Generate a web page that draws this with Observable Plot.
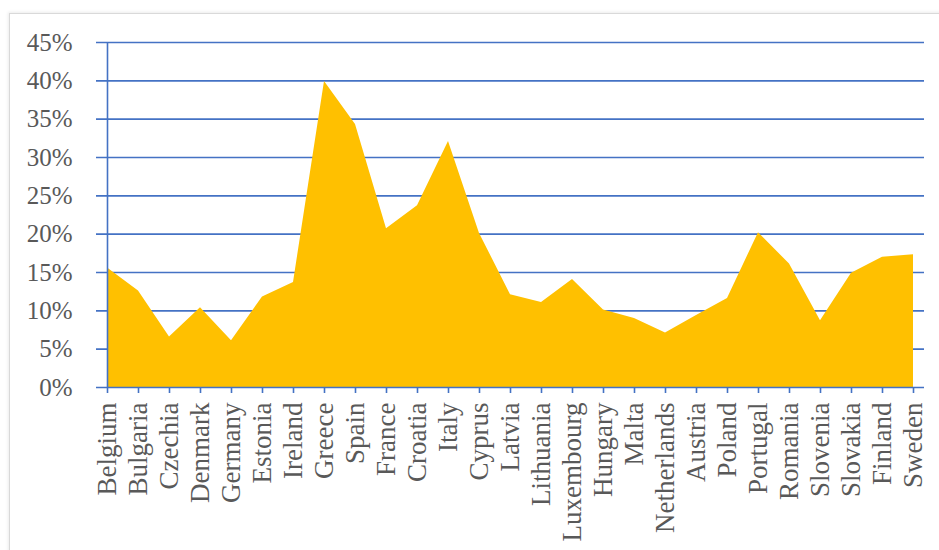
<!DOCTYPE html>
<html>
<head>
<meta charset="utf-8">
<script src="https://cdn.jsdelivr.net/npm/d3@7"></script>
<script src="https://cdn.jsdelivr.net/npm/@observablehq/plot@0.6"></script>
<style>
  html, body { margin: 0; padding: 0; background: #fff; }
  #wrap { position: relative; width: 939px; height: 550px; overflow: hidden; }
  #frame { position: absolute; left: 9px; top: 13px; width: 960px; height: 560px;
           border-top: 1px solid #d9d9d9; border-left: 1px solid #d9d9d9;
           box-shadow: -1px -1px 3px rgba(0,0,0,0.08); }
  #chart { position: absolute; left: 0; top: 0; width: 939px; height: 550px; }
</style>
</head>
<body>
<div id="wrap"><div id="frame"></div><div id="chart"></div></div>
<script>
const countries = ["Belgium","Bulgaria","Czechia","Denmark","Germany","Estonia","Ireland","Greece","Spain","France","Croatia","Italy","Cyprus","Latvia","Lithuania","Luxembourg","Hungary","Malta","Netherlands","Austria","Poland","Portugal","Romania","Slovenia","Slovakia","Finland","Sweden"];
const values = [15.6,12.6,6.6,10.4,6.1,11.8,13.7,39.9,34.3,20.7,23.7,32.1,20.1,12.1,11.1,14.1,10.1,9.0,7.1,9.4,11.6,20.2,16.1,8.7,14.9,17.0,17.3];
const yTicks = [0,5,10,15,20,25,30,35,40,45];
const gridTicks = [5,10,15,20,25,30,35,40,45];

const data = countries.map((c, i) => ({country: c, value: values[i]}));
const blue = "#4472C4";
const grey = "#595959";

const chart = Plot.plot({
  width: 939,
  height: 550,
  marginLeft: 96,
  marginRight: 15,
  marginTop: 42,
  marginBottom: 163,
  style: {fontFamily: "'Liberation Serif', serif", fontSize: "25px", background: "transparent"},
  x: {type: "point", domain: countries, padding: 0, range: [96, 924]},
  y: {domain: [0, 45], range: [387, 42]},
  marks: [
    Plot.ruleY(gridTicks, {stroke: blue, strokeWidth: 1.6}),
    Plot.areaY(data, {x: "country", y: "value", fill: "#FFC000"}),
    Plot.ruleY([0], {stroke: blue, strokeWidth: 1.6}),
    Plot.ruleX([countries[0]], {y1: 0, y2: 45, stroke: blue, strokeWidth: 1.6}),
    Plot.axisY({ticks: yTicks, tickSize: 0, tickPadding: 24, tickFormat: d => d + "%", fill: grey, fontSize: 25, label: null}),
    Plot.axisX({ticks: countries, tickRotate: -90, tickSize: 6, tickPadding: 9, stroke: blue, strokeWidth: 1.6, fill: grey, fontSize: 27, label: null})
  ]
});
document.getElementById("chart").appendChild(chart);
</script>
</body>
</html>
